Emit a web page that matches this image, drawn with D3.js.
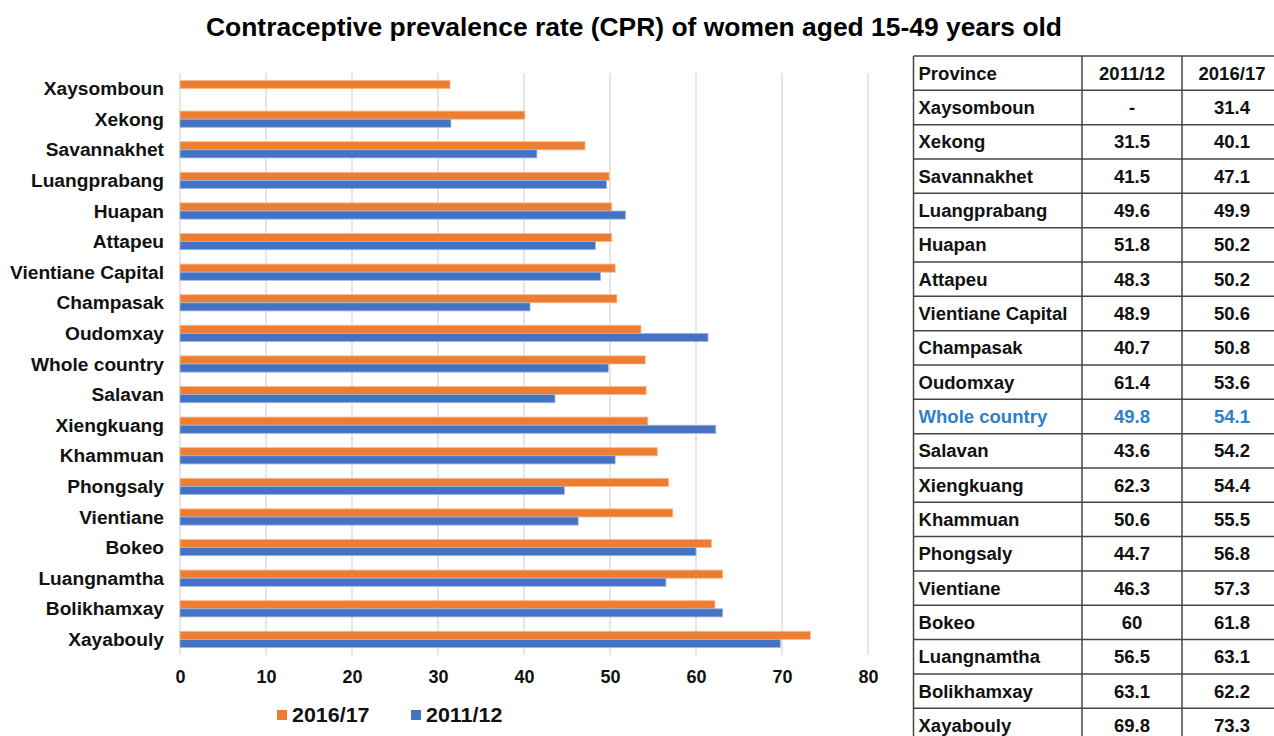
<!DOCTYPE html>
<html>
<head>
<meta charset="utf-8">
<script src="https://cdn.jsdelivr.net/npm/d3@7/dist/d3.min.js"></script>
<style>
  html, body { margin: 0; padding: 0; background: #fff; }
  svg { display: block; }
</style>
</head>
<body>
<svg id="chart" width="1274" height="736"></svg>
<script>
// Provinces, in the order shown (top to bottom)
const provinces = [
  "Xaysomboun", "Xekong", "Savannakhet", "Luangprabang", "Huapan", "Attapeu",
  "Vientiane Capital", "Champasak", "Oudomxay", "Whole country", "Salavan",
  "Xiengkuang", "Khammuan", "Phongsaly", "Vientiane", "Bokeo", "Luangnamtha",
  "Bolikhamxay", "Xayabouly"
];
// CPR (%) by survey round; Xaysomboun has no 2011/12 figure
const cpr2011 = [null, 31.5, 41.5, 49.6, 51.8, 48.3, 48.9, 40.7, 61.4, 49.8, 43.6, 62.3, 50.6, 44.7, 46.3, 60, 56.5, 63.1, 69.8];
const cpr2016 = [31.4, 40.1, 47.1, 49.9, 50.2, 50.2, 50.6, 50.8, 53.6, 54.1, 54.2, 54.4, 55.5, 56.8, 57.3, 61.8, 63.1, 62.2, 73.3];
const seriesNames = ["2016/17", "2011/12"];
const xTicks = [0, 10, 20, 30, 40, 50, 60, 70, 80];
const tableHeader = ["Province", "2011/12", "2016/17"];
const highlightRow = "Whole country";

const colors = { "2016/17": "#ED7D31", "2011/12": "#4472C4" };
const edge = { "2016/17": "#f6b98f", "2011/12": "#9fb6e2" };

const svg = d3.select("#chart");
const narrow = "'Liberation Sans Narrow', 'Arial Narrow', 'Liberation Sans', Arial, sans-serif";
const sans = "'Liberation Sans', Arial, sans-serif";

// Title
svg.append("text")
  .attr("x", 634).attr("y", 36)
  .attr("text-anchor", "middle")
  .attr("font-family", narrow)
  .attr("font-weight", "bold")
  .attr("font-size", 25)
  .attr("fill", "#000")
  .attr("textLength", 856)
  .attr("lengthAdjust", "spacingAndGlyphs")
  .text("Contraceptive prevalence rate (CPR) of women aged 15-49 years old");

// Scales
const x = d3.scaleLinear().domain([0, 80]).range([180, 868]);
const y = d3.scaleBand().domain(provinces).range([73, 655]).paddingInner(0.47).paddingOuter(0.245);
const ySub = d3.scaleBand().domain(seriesNames).range([0, y.bandwidth()]);

// Vertical gridlines
svg.append("g").selectAll("line").data(xTicks).join("line")
  .attr("x1", d => x(d)).attr("x2", d => x(d))
  .attr("y1", 73).attr("y2", 655)
  .attr("stroke", "#d9d9d9").attr("stroke-width", 1.3);

// Bars
const rows = provinces.map((p, i) => ({ p, vals: { "2016/17": cpr2016[i], "2011/12": cpr2011[i] } }));
const groups = svg.append("g").selectAll("g").data(rows).join("g")
  .attr("transform", d => `translate(0,${y(d.p)})`);
groups.selectAll("rect")
  .data(d => seriesNames.filter(s => d.vals[s] != null).map(s => ({ s, v: d.vals[s] })))
  .join("rect")
  .attr("x", x(0))
  .attr("y", d => ySub(d.s))
  .attr("width", d => x(d.v) - x(0))
  .attr("height", ySub.bandwidth())
  .attr("fill", d => colors[d.s])
  .attr("stroke", d => edge[d.s])
  .attr("stroke-width", 0.8);

// Category labels (slightly wide bold face)
const yAxis = d3.axisLeft(y).tickSize(0).tickPadding(16);
const yg = svg.append("g").attr("transform", `translate(${x(0)},0)`).call(yAxis);
yg.select(".domain").remove();
yg.selectAll("text")
  .attr("x", 0)
  .attr("transform", "translate(-16,1) scale(1.095,1)")
  .attr("font-family", sans).attr("font-weight", "bold")
  .attr("font-size", 17.5).attr("fill", "#111");

// X axis tick labels
const xAxis = d3.axisBottom(x).tickValues(xTicks).tickSize(0).tickPadding(15);
const xg = svg.append("g").attr("transform", "translate(0,655)").call(xAxis);
xg.select(".domain").remove();
xg.selectAll("text")
  .attr("font-family", narrow).attr("font-weight", "bold")
  .attr("font-size", 18).attr("fill", "#111");

// Legend
const legend = svg.append("g").attr("transform", "translate(277,715)");
const legendItems = legend.selectAll("g").data(seriesNames).join("g")
  .attr("transform", (d, i) => `translate(${i * 134},0)`);
legendItems.append("rect")
  .attr("x", 0).attr("y", -5).attr("width", 10).attr("height", 10)
  .attr("fill", d => colors[d]);
legendItems.append("text")
  .attr("transform", "translate(15,7) scale(1.1,1)")
  .attr("font-family", narrow).attr("font-weight", "bold")
  .attr("font-size", 19.5).attr("fill", "#111")
  .text(d => d);

// Data table
const tX = [913.5, 1082, 1182, 1282];
const tTop = 56, rowH = 34.33;
const tableRows = [tableHeader].concat(provinces.map((p, i) => [
  p, cpr2011[i] == null ? "-" : String(cpr2011[i]), String(cpr2016[i])
]));
const table = svg.append("g");
// horizontal rules
table.selectAll("line.h").data(d3.range(tableRows.length + 1)).join("line")
  .attr("class", "h")
  .attr("x1", tX[0]).attr("x2", tX[3])
  .attr("y1", i => tTop + i * rowH).attr("y2", i => tTop + i * rowH)
  .attr("stroke", "#444").attr("stroke-width", 1.5);
// vertical rules
table.selectAll("line.v").data(tX).join("line")
  .attr("class", "v")
  .attr("x1", d => d).attr("x2", d => d)
  .attr("y1", tTop).attr("y2", tTop + tableRows.length * rowH)
  .attr("stroke", "#444").attr("stroke-width", 1.5);
// cell text
const tr = table.selectAll("g.row").data(tableRows).join("g")
  .attr("class", "row")
  .attr("transform", (d, i) => `translate(0,${tTop + i * rowH + rowH / 2 + 6.5})`);
tr.selectAll("text").data(d => d.map((v, j) => ({ v, j, row: d[0] }))).join("text")
  .attr("transform", d => `translate(${d.j === 0 ? tX[0] + 5 : (tX[d.j] + tX[d.j + 1]) / 2},0) scale(1.06,1)`)
  .attr("text-anchor", d => d.j === 0 ? "start" : "middle")
  .attr("font-family", sans).attr("font-weight", "bold")
  .attr("font-size", 17.5)
  .attr("fill", d => d.row === highlightRow ? "#2E80C8" : "#111")
  .text(d => d.v);
</script>
</body>
</html>
